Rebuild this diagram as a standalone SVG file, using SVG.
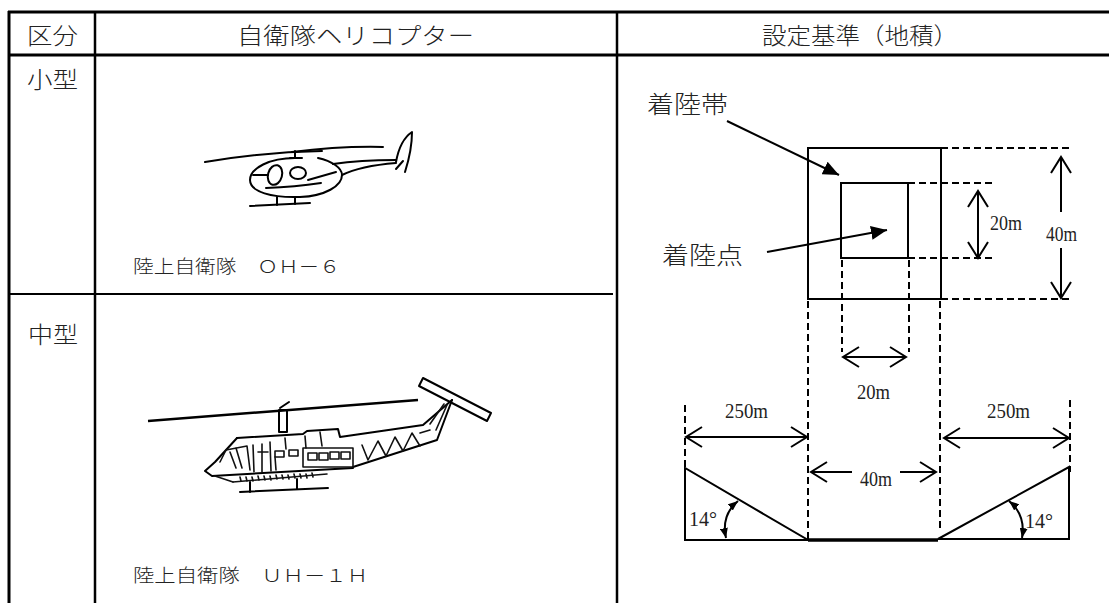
<svg xmlns="http://www.w3.org/2000/svg" width="1109" height="603" viewBox="0 0 1109 603">
<style>
.tl{stroke:#000;stroke-width:3;fill:none}
.tm{stroke:#000;stroke-width:2.5;fill:none}
.ln{stroke:#000;stroke-width:2;fill:none}
.dash{stroke:#000;stroke-width:2;stroke-dasharray:7 4;fill:none}
.heli{stroke:#000;stroke-width:2;fill:none;stroke-linecap:round;stroke-linejoin:round}
.heli2{stroke:#111;stroke-width:1.6;fill:none;stroke-linecap:round;stroke-linejoin:round}
.jp{font-family:"Noto Sans CJK JP",sans-serif;font-weight:300;fill:#222}
.hd{font-size:23px}
.cap{font-size:18px}
.num{font-family:"Liberation Serif",serif;font-size:20px;fill:#222}
</style>
<defs>
<marker id="v" viewBox="0 0 20 24" refX="18" refY="12" markerWidth="20" markerHeight="24" markerUnits="userSpaceOnUse" orient="auto-start-reverse">
<path d="M2,2 L18,12 L2,22" fill="none" stroke="#000" stroke-width="2"/>
</marker>
<marker id="f" viewBox="0 0 16 14" refX="16" refY="7" markerWidth="16" markerHeight="14" markerUnits="userSpaceOnUse" orient="auto">
<path d="M0,0 L16,7 L0,14 Z" fill="#000"/>
</marker>
<marker id="s" viewBox="0 0 10 8" refX="10" refY="4" markerWidth="10" markerHeight="8" markerUnits="userSpaceOnUse" orient="auto-start-reverse">
<path d="M0,0 L10,4 L0,8 Z" fill="#000"/>
</marker>
</defs>
<rect width="1109" height="603" fill="#fff"/>

<g id="table">
<line class="tl" x1="8" y1="12" x2="1109" y2="12"/>
<line class="tl" x1="8" y1="55" x2="1109" y2="55"/>
<line class="tl" x1="9" y1="11" x2="9" y2="603"/>
<line class="tm" x1="95" y1="11" x2="95" y2="603"/>
<line class="tm" x1="617" y1="11" x2="617" y2="603"/>
<line class="ln" x1="8" y1="294" x2="613" y2="294"/>
</g>

<g id="headers">
<text class="jp hd" x="27" y="44" textLength="51" lengthAdjust="spacingAndGlyphs">区分</text>
<text class="jp hd" x="237" y="44" textLength="237" lengthAdjust="spacingAndGlyphs">自衛隊ヘリコプター</text>
<text class="jp hd" x="762" y="44" textLength="196" lengthAdjust="spacingAndGlyphs">設定基準（地積）</text>
</g>

<g id="row-small">
<text class="jp hd" x="27" y="88" textLength="51" lengthAdjust="spacingAndGlyphs">小型</text>
<g id="oh6">
<path class="heli" d="M205,162 Q265,152 322,151"/>
<path class="heli" d="M292,152 Q340,146 383,147"/>
<path class="heli" d="M295,151 L295,158 M290,158 L302,158"/>
<path class="heli" d="M295,158 C270,158 250,168 250,180 C250,192 272,198 300,197 C325,196 342,186 342,175 C342,168 332,161 318,158"/>
<path class="heli" d="M333,164 Q360,160 396,160"/>
<path class="heli" d="M342,175 Q360,166 396,163"/>
<path class="heli" d="M396,162 Q400,140 412,132 Q412,150 405,172"/>
<path class="heli" d="M396,169 L403,161"/>
<ellipse class="heli" cx="275" cy="175" rx="7" ry="10" transform="rotate(15 275 175)"/>
<ellipse class="heli" cx="298" cy="173" rx="8" ry="6"/>
<path class="heli" d="M253,175 L268,175"/>
<path class="heli" d="M266,188 Q295,187 321,183"/>
<path class="heli" d="M308,180 L336,172"/>
<path class="heli" d="M250,206 L310,203"/>
<path class="heli" d="M277,197 L277,205 M295,197 L295,204"/>
</g>
<text class="jp cap" x="133" y="273" textLength="207" lengthAdjust="spacingAndGlyphs">陸上自衛隊　ＯＨ－６</text>
</g>

<g id="row-medium">
<text class="jp hd" x="28" y="343" textLength="50" lengthAdjust="spacingAndGlyphs">中型</text>
<g id="uh1h">
<path class="tm" d="M148,421 L418,400"/>
<path class="heli" d="M280,408 L289,402"/>
<rect class="heli" x="279" y="410" width="8" height="22"/>
<path class="heli" d="M237,438 L303,434 L307,431 L338,429 L340,437 L423,425 L452,400"/>
<path class="heli" d="M452,400 L437,440 L353,467"/>
<path class="heli2" d="M430,424 L444,404 M436,430 L447,405"/>
<path class="heli" d="M237,438 L215,462 L205,471 L212,476 L353,468"/>
<path class="heli2" d="M233,482 L327,474"/>
<path class="heli2" d="M215,476 L233,482 M240,477 L241,481 M246,477 L247,481 M252,477 L253,481 M258,476 L259,480 M264,476 L265,480 M270,476 L271,480 M276,475 L277,479 M282,475 L283,479 M288,475 L289,479 M294,474 L295,478 M300,474 L301,478 M306,474 L307,478 M312,473 L313,477"/>
<path class="heli" d="M240,492 L328,488"/>
<path class="heli" d="M250,482 L250,492 M297,479 L297,489"/>
<rect class="heli2" x="303" y="448" width="50" height="19"/>
<rect class="heli2" x="308" y="453" width="9" height="7"/>
<rect class="heli2" x="319" y="453" width="9" height="7"/>
<rect class="heli2" x="330" y="452" width="9" height="7"/>
<rect class="heli2" x="341" y="452" width="9" height="7"/>
<path class="heli2" d="M220,462 L226,450 L247,446 L250,470 M230,452 L236,468 M236,448 L242,468"/>
<path class="heli2" d="M253,445 L254,472 M262,444 L262,472 M270,442 L271,471 M258,452 L268,452"/>
<rect class="heli2" x="275" y="451" width="9" height="6"/>
<rect class="heli2" x="289" y="450" width="9" height="6"/>
<path class="heli2" d="M275,457 L276,470 M285,438 L286,449"/>
<path class="heli2" d="M305,436 L306,448 M320,432 L322,446"/>
<path class="heli2" d="M362,445 L368,460 L378,441 L386,456 L395,437 L403,451 L412,433 L420,446 M420,433 L430,430"/>
<polygon class="heli" points="423,378 491,413 487,421 419,386"/>
</g>
<text class="jp cap" x="133" y="582" textLength="235" lengthAdjust="spacingAndGlyphs">陸上自衛隊　ＵＨ－１Ｈ</text>
</g>

<g id="landing-zone">
<rect class="ln" x="808" y="148" width="133" height="151"/>
<rect class="ln" x="841" y="183" width="67" height="75"/>
<path class="ln" d="M685,468 L685,540 L808,540 Z"/>
<path class="ln" d="M938,539 L1069,467 L1069,539 Z"/>
<line x1="808" y1="540" x2="938" y2="540" stroke="#000" stroke-width="3.5"/>
</g>

<g id="labels">
<text class="jp" font-size="24" x="647" y="113" textLength="81" lengthAdjust="spacingAndGlyphs">着陸帯</text>
<text class="jp" font-size="24" x="662" y="264" textLength="81" lengthAdjust="spacingAndGlyphs">着陸点</text>
<text class="num" x="990" y="230" textLength="32" lengthAdjust="spacingAndGlyphs">20m</text>
<text class="num" x="1046" y="241" textLength="31" lengthAdjust="spacingAndGlyphs">40m</text>
<text class="num" x="857" y="399" textLength="33" lengthAdjust="spacingAndGlyphs">20m</text>
<text class="num" x="725" y="418" textLength="43" lengthAdjust="spacingAndGlyphs">250m</text>
<text class="num" x="987" y="418" textLength="43" lengthAdjust="spacingAndGlyphs">250m</text>
<text class="num" x="860" y="486" textLength="32" lengthAdjust="spacingAndGlyphs">40m</text>
<text class="num" x="689" y="526" textLength="28" lengthAdjust="spacingAndGlyphs">14°</text>
<text class="num" x="1025" y="528" textLength="28" lengthAdjust="spacingAndGlyphs">14°</text>
</g>

<g id="connectors">
<line class="ln" x1="727" y1="121" x2="839" y2="175" marker-end="url(#f)"/>
<line class="ln" x1="767" y1="252" x2="887" y2="230" marker-end="url(#f)"/>
<line class="dash" x1="941" y1="148" x2="1070" y2="148"/>
<line class="dash" x1="908" y1="183" x2="995" y2="183"/>
<line class="dash" x1="908" y1="258" x2="995" y2="258"/>
<line class="dash" x1="941" y1="299" x2="1070" y2="299"/>
<line class="dash" x1="808" y1="301" x2="808" y2="540"/>
<line class="dash" x1="842" y1="260" x2="842" y2="352"/>
<line class="dash" x1="909" y1="260" x2="909" y2="352"/>
<line class="dash" x1="940" y1="301" x2="940" y2="532"/>
<line class="dash" x1="685" y1="405" x2="685" y2="467"/>
<line class="dash" x1="1070" y1="400" x2="1070" y2="472"/>
<line class="ln" x1="978" y1="191" x2="978" y2="258" marker-start="url(#v)" marker-end="url(#v)"/>
<line class="ln" x1="1061" y1="157" x2="1061" y2="212" marker-start="url(#v)"/>
<line class="ln" x1="1061" y1="248" x2="1061" y2="298" marker-end="url(#v)"/>
<line class="ln" x1="843" y1="357" x2="906" y2="357" marker-start="url(#v)" marker-end="url(#v)"/>
<line class="ln" x1="686" y1="437" x2="807" y2="437" marker-start="url(#v)" marker-end="url(#v)"/>
<line class="ln" x1="944" y1="438" x2="1069" y2="438" marker-start="url(#v)" marker-end="url(#v)"/>
<line class="ln" x1="811" y1="472" x2="852" y2="472" marker-start="url(#v)"/>
<line class="ln" x1="900" y1="472" x2="936" y2="472" marker-end="url(#v)"/>
<path class="ln" d="M738,501 Q721,515 726,538" marker-start="url(#s)" marker-end="url(#s)"/>
<path class="ln" d="M1009,501 Q1026,515 1022,538" marker-start="url(#s)" marker-end="url(#s)"/>
</g>
</svg>
